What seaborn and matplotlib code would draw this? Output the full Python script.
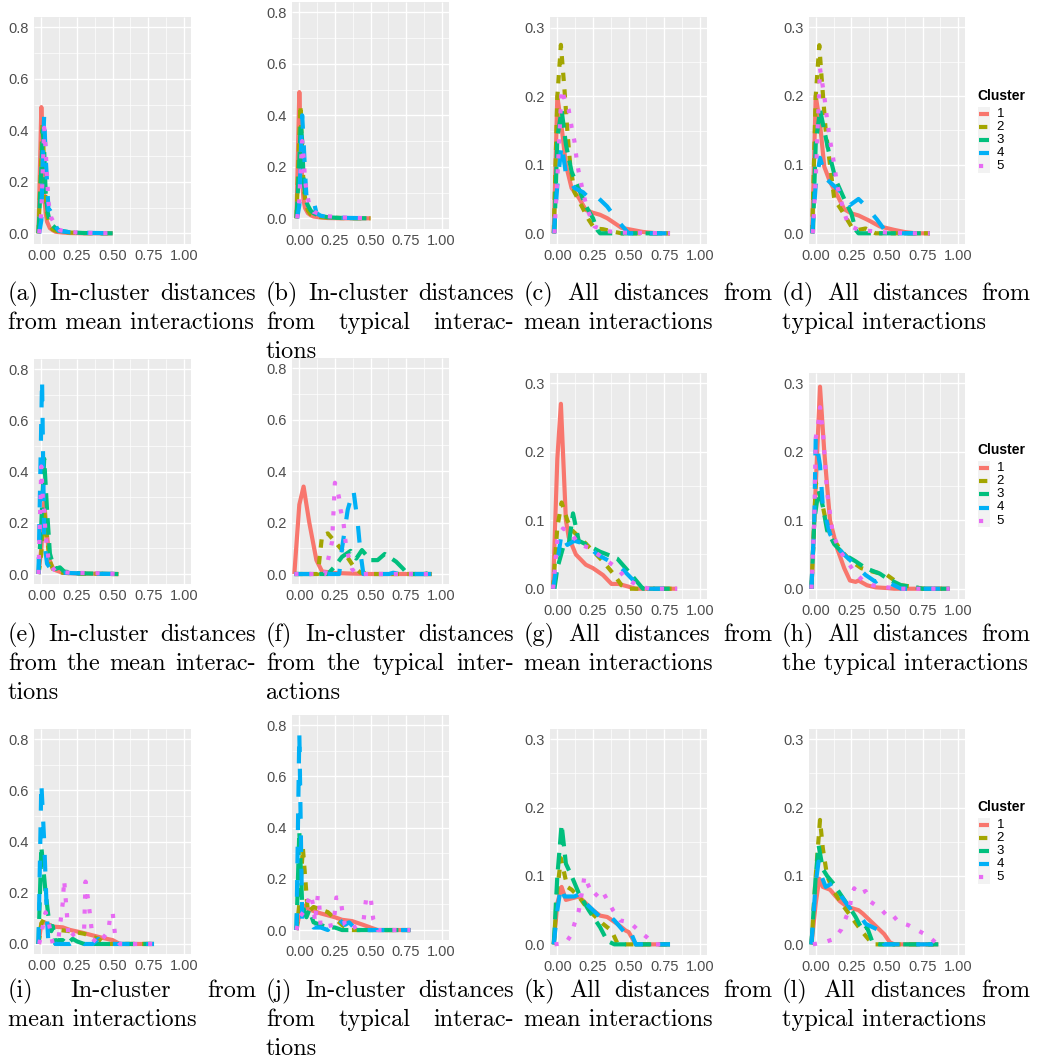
import numpy as np
import pandas as pd
import matplotlib
matplotlib.use('Agg')
import matplotlib.pyplot as plt
import seaborn as sns
from matplotlib.lines import Line2D
from matplotlib.patches import Rectangle
from matplotlib.ticker import MultipleLocator

sns.set_style('darkgrid', {'axes.facecolor': '#EBEBEB', 'grid.color': 'white'})
plt.rcParams['font.family'] = ['Liberation Sans', 'DejaVu Sans']
plt.rcParams['lines.solid_capstyle'] = 'butt'
plt.rcParams['lines.dash_capstyle'] = 'butt'

# ---- data: (distance, proportion) vertices per cluster ----
A1 = [(-0.02, 0), (0.0, 0.49), (0.01, 0.30), (0.02, 0.15), (0.03, 0.08), (0.04, 0.045), (0.06, 0.02), (0.08, 0.012), (0.1, 0.006), (0.15, 0.003), (0.2, 0.001), (0.3, 0), (0.5, 0)]
A2 = [(-0.02, 0), (0.0, 0.30), (0.008, 0.43), (0.02, 0.25), (0.03, 0.12), (0.045, 0.06), (0.06, 0.03), (0.08, 0.015), (0.1, 0.01), (0.15, 0.005), (0.2, 0.003), (0.3, 0.001), (0.5, 0)]
A3 = [(-0.02, 0), (0.0, 0.25), (0.01, 0.40), (0.02, 0.32), (0.03, 0.16), (0.045, 0.08), (0.06, 0.045), (0.08, 0.03), (0.1, 0.02), (0.13, 0.01), (0.2, 0.004), (0.3, 0.001), (0.5, 0)]
A4 = [(-0.015, 0), (0.0, 0.05), (0.01, 0.30), (0.02, 0.46), (0.03, 0.30), (0.04, 0.20), (0.05, 0.09), (0.06, 0.09), (0.08, 0.07), (0.1, 0.03), (0.12, 0.01), (0.2, 0.004), (0.3, 0.002), (0.5, 0)]
A5 = [(-0.015, 0), (0.0, 0.08), (0.01, 0.25), (0.02, 0.41), (0.03, 0.33), (0.04, 0.22), (0.05, 0.12), (0.07, 0.06), (0.1, 0.03), (0.13, 0.012), (0.2, 0.005), (0.3, 0.002), (0.5, 0)]

B1 = [(-0.02, 0), (0.0, 0.49), (0.01, 0.30), (0.02, 0.14), (0.03, 0.07), (0.04, 0.04), (0.06, 0.02), (0.08, 0.012), (0.1, 0.007), (0.15, 0.003), (0.2, 0.001), (0.3, 0), (0.5, 0)]
B2 = [(-0.02, 0), (0.0, 0.32), (0.008, 0.44), (0.02, 0.26), (0.03, 0.12), (0.045, 0.06), (0.06, 0.03), (0.08, 0.015), (0.1, 0.01), (0.15, 0.005), (0.2, 0.003), (0.3, 0.001), (0.5, 0)]
B3 = [(-0.02, 0), (0.0, 0.22), (0.01, 0.37), (0.02, 0.30), (0.03, 0.15), (0.045, 0.07), (0.06, 0.05), (0.08, 0.03), (0.1, 0.02), (0.13, 0.012), (0.2, 0.004), (0.3, 0.001), (0.5, 0)]
B4 = [(-0.015, 0), (0.0, 0.05), (0.01, 0.25), (0.02, 0.40), (0.03, 0.30), (0.04, 0.18), (0.05, 0.085), (0.07, 0.07), (0.09, 0.065), (0.1, 0.07), (0.12, 0.02), (0.15, 0.01), (0.2, 0.005), (0.3, 0.002), (0.5, 0)]
B5 = [(-0.015, 0), (0.0, 0.07), (0.01, 0.20), (0.02, 0.30), (0.03, 0.24), (0.04, 0.15), (0.05, 0.11), (0.07, 0.05), (0.1, 0.025), (0.13, 0.02), (0.2, 0.008), (0.3, 0.003), (0.5, 0)]

C1 = [(-0.025, 0), (0.0, 0.20), (0.03, 0.155), (0.06, 0.10), (0.1, 0.066), (0.15, 0.052), (0.2, 0.034), (0.25, 0.03), (0.3, 0.027), (0.35, 0.022), (0.4, 0.015), (0.45, 0.008), (0.5, 0.006), (0.55, 0.004), (0.6, 0.002), (0.65, 0.001), (0.7, 0), (0.79, 0)]
C2 = [(-0.025, 0), (0.0, 0.20), (0.025, 0.275), (0.05, 0.21), (0.07, 0.15), (0.09, 0.10), (0.12, 0.06), (0.18, 0.036), (0.22, 0.02), (0.26, 0.007), (0.32, 0.006), (0.38, 0.003), (0.45, 0), (0.79, 0)]
C3 = [(-0.02, 0), (0.0, 0.14), (0.03, 0.18), (0.06, 0.13), (0.1, 0.09), (0.15, 0.065), (0.2, 0.04), (0.25, 0.022), (0.28, 0.005), (0.3, 0), (0.79, 0)]
C4 = [(-0.025, 0), (0.0, 0.07), (0.03, 0.13), (0.06, 0.087), (0.12, 0.066), (0.18, 0.06), (0.25, 0.046), (0.29, 0.051), (0.35, 0.039), (0.42, 0.019), (0.5, 0), (0.79, 0)]
C5 = [(-0.02, 0), (0.0, 0.08), (0.03, 0.21), (0.06, 0.19), (0.08, 0.18), (0.1, 0.155), (0.12, 0.134), (0.14, 0.1), (0.18, 0.06), (0.21, 0.035), (0.26, 0.01), (0.35, 0.003), (0.45, 0.001), (0.79, 0)]

D1 = [(-0.025, 0), (0.0, 0.20), (0.03, 0.16), (0.06, 0.097), (0.1, 0.075), (0.15, 0.056), (0.2, 0.035), (0.25, 0.029), (0.3, 0.026), (0.37, 0.019), (0.45, 0.01), (0.55, 0.005), (0.62, 0.002), (0.7, 0), (0.8, 0)]
D2 = [(-0.025, 0), (0.0, 0.20), (0.025, 0.274), (0.04, 0.23), (0.07, 0.15), (0.1, 0.10), (0.13, 0.05), (0.18, 0.034), (0.25, 0.01), (0.3, 0.005), (0.35, 0.007), (0.42, 0), (0.8, 0)]
D3 = [(-0.02, 0), (0.0, 0.13), (0.03, 0.18), (0.06, 0.15), (0.09, 0.12), (0.14, 0.078), (0.2, 0.05), (0.25, 0.029), (0.28, 0.005), (0.3, 0), (0.8, 0)]
D4 = [(-0.025, 0), (0.0, 0.07), (0.03, 0.11), (0.07, 0.08), (0.15, 0.065), (0.2, 0.055), (0.24, 0.041), (0.3, 0.05), (0.35, 0.04), (0.43, 0.02), (0.5, 0), (0.8, 0)]
D5 = [(-0.02, 0), (0.0, 0.08), (0.03, 0.24), (0.06, 0.20), (0.08, 0.165), (0.1, 0.136), (0.13, 0.10), (0.15, 0.07), (0.2, 0.03), (0.23, 0.012), (0.3, 0.005), (0.4, 0.003), (0.5, 0.001), (0.7, 0), (0.8, 0)]

E1 = [(-0.02, 0), (0.0, 0.10), (0.02, 0.28), (0.04, 0.15), (0.06, 0.05), (0.08, 0.025), (0.1, 0.015), (0.15, 0.005), (0.25, 0.002), (0.54, 0)]
E2 = [(-0.02, 0), (0.0, 0.08), (0.02, 0.25), (0.04, 0.14), (0.06, 0.05), (0.08, 0.02), (0.1, 0.012), (0.15, 0.005), (0.25, 0.002), (0.54, 0)]
E3 = [(-0.02, 0), (0.0, 0.20), (0.02, 0.45), (0.04, 0.25), (0.06, 0.08), (0.08, 0.04), (0.1, 0.02), (0.13, 0.026), (0.16, 0.01), (0.25, 0.003), (0.54, 0)]
E4 = [(-0.02, 0), (0.005, 0.76), (0.02, 0.13), (0.04, 0.04), (0.08, 0.01), (0.15, 0.005), (0.3, 0.002), (0.54, 0)]
E5 = [(-0.02, 0), (0.0, 0.42), (0.01, 0.30), (0.02, 0.25), (0.03, 0.15), (0.05, 0.06), (0.07, 0.03), (0.1, 0.01), (0.2, 0.005), (0.4, 0.003), (0.54, 0)]

F1 = [(-0.035, 0), (0.0, 0.27), (0.03, 0.34), (0.07, 0.20), (0.12, 0.054), (0.16, 0.01), (0.25, 0.004), (0.35, 0.002), (0.5, 0), (0.93, 0)]
F2 = [(-0.035, 0), (0.13, 0), (0.16, 0.15), (0.2, 0.158), (0.25, 0.126), (0.32, 0.08), (0.38, 0.03), (0.43, 0.005), (0.5, 0), (0.93, 0)]
F3 = [(-0.035, 0), (0.2, 0), (0.25, 0.03), (0.3, 0.067), (0.36, 0.09), (0.4, 0.06), (0.44, 0.093), (0.5, 0.054), (0.55, 0.054), (0.6, 0.078), (0.68, 0.048), (0.73, 0.02), (0.76, 0), (0.88, 0), (0.92, 0.005), (0.93, 0)]
F4 = [(-0.035, 0), (0.28, 0), (0.3, 0.1), (0.34, 0.25), (0.38, 0.327), (0.41, 0.2), (0.43, 0.08), (0.45, 0), (0.63, 0), (0.66, 0.005), (0.7, 0), (0.93, 0)]
F5 = [(-0.035, 0), (0.18, 0), (0.2, 0.05), (0.23, 0.126), (0.25, 0.355), (0.27, 0.32), (0.28, 0.294), (0.29, 0.25), (0.31, 0.2), (0.33, 0.1), (0.37, 0.02), (0.4, 0), (0.93, 0)]

G1 = [(-0.03, 0), (0.0, 0.19), (0.025, 0.27), (0.06, 0.10), (0.08, 0.075), (0.13, 0.05), (0.2, 0.035), (0.25, 0.03), (0.32, 0.02), (0.38, 0.007), (0.43, 0.007), (0.5, 0.003), (0.55, 0), (0.84, 0)]
G2 = [(-0.03, 0), (0.0, 0.09), (0.03, 0.126), (0.07, 0.10), (0.1, 0.086), (0.18, 0.07), (0.25, 0.055), (0.32, 0.04), (0.4, 0.02), (0.45, 0.005), (0.5, 0), (0.84, 0)]
G3 = [(-0.02, 0), (0.0, 0.03), (0.04, 0.06), (0.08, 0.065), (0.11, 0.11), (0.15, 0.07), (0.2, 0.065), (0.3, 0.054), (0.35, 0.05), (0.42, 0.044), (0.5, 0.025), (0.6, 0), (0.84, 0)]
G4 = [(-0.03, 0), (0.0, 0.04), (0.03, 0.081), (0.07, 0.064), (0.12, 0.07), (0.2, 0.065), (0.28, 0.05), (0.35, 0.042), (0.45, 0.03), (0.52, 0.015), (0.6, 0), (0.84, 0)]
G5 = [(-0.03, 0), (0.0, 0.07), (0.04, 0.088), (0.1, 0.08), (0.15, 0.065), (0.22, 0.06), (0.32, 0.045), (0.42, 0.03), (0.48, 0.015), (0.52, 0.01), (0.58, 0.003), (0.65, 0), (0.84, 0)]

H1 = [(-0.03, 0), (0.0, 0.15), (0.03, 0.295), (0.06, 0.20), (0.1, 0.10), (0.15, 0.059), (0.2, 0.03), (0.24, 0.012), (0.28, 0.01), (0.3, 0.012), (0.36, 0.005), (0.42, 0.002), (0.5, 0.001), (0.55, 0), (0.94, 0)]
H2 = [(-0.03, 0), (-0.01, 0.1), (0.0, 0.155), (0.04, 0.13), (0.07, 0.10), (0.1, 0.08), (0.18, 0.055), (0.25, 0.04), (0.32, 0.03), (0.4, 0.025), (0.5, 0.02), (0.6, 0.005), (0.68, 0.003), (0.75, 0), (0.94, 0)]
H3 = [(-0.03, 0), (-0.01, 0.1), (0.02, 0.144), (0.05, 0.12), (0.08, 0.085), (0.13, 0.065), (0.2, 0.05), (0.28, 0.04), (0.35, 0.03), (0.45, 0.022), (0.5, 0.015), (0.6, 0.005), (0.7, 0.002), (0.75, 0), (0.94, 0)]
H4 = [(-0.03, 0), (-0.01, 0.1), (0.0, 0.22), (0.03, 0.18), (0.05, 0.12), (0.1, 0.08), (0.15, 0.06), (0.25, 0.04), (0.3, 0.03), (0.35, 0.02), (0.42, 0.01), (0.45, 0.015), (0.55, 0.005), (0.6, 0), (0.94, 0)]
H5 = [(-0.03, 0), (-0.01, 0.1), (0.0, 0.22), (0.02, 0.245), (0.03, 0.265), (0.05, 0.23), (0.08, 0.14), (0.12, 0.08), (0.17, 0.055), (0.22, 0.04), (0.27, 0.025), (0.33, 0.012), (0.4, 0.005), (0.5, 0.002), (0.6, 0), (0.94, 0)]

I1 = [(-0.02, 0), (0.0, 0.08), (0.02, 0.085), (0.08, 0.068), (0.15, 0.065), (0.2, 0.055), (0.28, 0.045), (0.35, 0.035), (0.42, 0.025), (0.5, 0.015), (0.55, 0), (0.79, 0)]
I2 = [(-0.02, 0), (0.0, 0.08), (0.02, 0.10), (0.06, 0.06), (0.12, 0.055), (0.2, 0.05), (0.3, 0.04), (0.4, 0.02), (0.45, 0), (0.79, 0)]
I3 = [(-0.02, 0), (0.0, 0.38), (0.03, 0.2), (0.05, 0.107), (0.07, 0.05), (0.08, 0.07), (0.1, 0), (0.12, 0.015), (0.15, 0.015), (0.18, 0), (0.22, 0.02), (0.25, 0.01), (0.3, 0), (0.79, 0)]
I4 = [(-0.02, 0), (0.0, 0.63), (0.02, 0.4), (0.04, 0.1), (0.05, 0), (0.07, 0.02), (0.1, 0), (0.2, 0), (0.26, 0.02), (0.3, 0), (0.36, 0), (0.4, 0.02), (0.43, 0), (0.79, 0)]
I5 = [(-0.015, 0), (0.0, 0.04), (0.03, 0.124), (0.05, 0.09), (0.08, 0), (0.12, 0.02), (0.15, 0.159), (0.16, 0.25), (0.18, 0.113), (0.19, 0.02), (0.23, 0.04), (0.3, 0.057), (0.31, 0.244), (0.33, 0.165), (0.34, 0.12), (0.36, 0.02), (0.4, 0), (0.47, 0.05), (0.48, 0.096), (0.5, 0.124), (0.51, 0.07), (0.52, 0.02), (0.55, 0), (0.79, 0)]

J1 = [(-0.02, 0), (0.0, 0.06), (0.02, 0.10), (0.07, 0.08), (0.15, 0.065), (0.25, 0.05), (0.3, 0.04), (0.37, 0.035), (0.45, 0.02), (0.5, 0.01), (0.55, 0), (0.78, 0)]
J2 = [(-0.02, 0), (0.0, 0.1), (0.025, 0.32), (0.06, 0.07), (0.1, 0.09), (0.2, 0.07), (0.26, 0.04), (0.3, 0.02), (0.35, 0), (0.78, 0)]
J3 = [(-0.02, 0), (0.0, 0.384), (0.02, 0.1), (0.05, 0.05), (0.07, 0.078), (0.1, 0.03), (0.15, 0.02), (0.2, 0.01), (0.25, 0.01), (0.3, 0), (0.78, 0)]
J4 = [(-0.02, 0), (0.0, 0.77), (0.02, 0.04), (0.07, 0.04), (0.1, 0.01), (0.15, 0.01), (0.2, 0), (0.27, 0.045), (0.32, 0.02), (0.35, 0.03), (0.4, 0), (0.78, 0)]
J5 = [(-0.02, 0), (0.0, 0.05), (0.03, 0.07), (0.08, 0.14), (0.1, 0.09), (0.11, 0.03), (0.13, 0.135), (0.14, 0.1), (0.15, 0.01), (0.24, 0.02), (0.26, 0.127), (0.29, 0.125), (0.3, 0.08), (0.32, 0.02), (0.35, 0), (0.45, 0.03), (0.46, 0.08), (0.47, 0.125), (0.5, 0.13), (0.51, 0.085), (0.52, 0.04), (0.55, 0), (0.78, 0)]

K1 = [(-0.025, 0), (0.0, 0.06), (0.03, 0.084), (0.06, 0.065), (0.15, 0.07), (0.2, 0.06), (0.25, 0.05), (0.3, 0.042), (0.35, 0.04), (0.42, 0.03), (0.48, 0.02), (0.5, 0.018), (0.55, 0), (0.79, 0)]
K2 = [(-0.025, 0), (0.0, 0.08), (0.025, 0.126), (0.07, 0.084), (0.1, 0.08), (0.15, 0.07), (0.22, 0.05), (0.32, 0.03), (0.38, 0.02), (0.42, 0.002), (0.48, 0), (0.79, 0)]
K3 = [(-0.025, 0), (0.0, 0.10), (0.03, 0.175), (0.06, 0.118), (0.1, 0.10), (0.15, 0.075), (0.22, 0.05), (0.3, 0.025), (0.35, 0.005), (0.4, 0), (0.79, 0)]
K4 = [(-0.025, 0), (0.0, 0.05), (0.025, 0.085), (0.05, 0.07), (0.12, 0.07), (0.17, 0.075), (0.2, 0.06), (0.25, 0.05), (0.3, 0.04), (0.35, 0.045), (0.4, 0.035), (0.47, 0.018), (0.5, 0.025), (0.55, 0), (0.79, 0)]
K5 = [(-0.02, 0), (0.06, 0.002), (0.1, 0.015), (0.12, 0.03), (0.15, 0.049), (0.18, 0.085), (0.19, 0.1), (0.22, 0.085), (0.26, 0.07), (0.31, 0.08), (0.35, 0.065), (0.39, 0.05), (0.44, 0.035), (0.51, 0.032), (0.57, 0.02), (0.63, 0.01), (0.68, 0), (0.79, 0)]

L1 = [(-0.03, 0), (0.0, 0.06), (0.025, 0.096), (0.05, 0.084), (0.1, 0.08), (0.17, 0.063), (0.22, 0.055), (0.3, 0.05), (0.33, 0.045), (0.38, 0.035), (0.43, 0.025), (0.48, 0.015), (0.52, 0.003), (0.55, 0), (0.86, 0)]
L2 = [(-0.03, 0), (0.0, 0.1), (0.03, 0.182), (0.05, 0.14), (0.08, 0.10), (0.12, 0.08), (0.18, 0.06), (0.25, 0.04), (0.32, 0.02), (0.38, 0.005), (0.4, 0), (0.86, 0)]
L3 = [(-0.03, 0), (0.0, 0.1), (0.02, 0.145), (0.05, 0.11), (0.08, 0.10), (0.12, 0.09), (0.2, 0.065), (0.25, 0.05), (0.28, 0.04), (0.33, 0.02), (0.36, 0.025), (0.4, 0.002), (0.45, 0), (0.86, 0)]
L4 = [(-0.03, 0), (0.0, 0.09), (0.02, 0.121), (0.04, 0.10), (0.07, 0.084), (0.12, 0.09), (0.18, 0.07), (0.25, 0.05), (0.3, 0.045), (0.35, 0.03), (0.4, 0.025), (0.45, 0.02), (0.48, 0), (0.86, 0)]
L5 = [(-0.02, 0), (0.06, 0.003), (0.13, 0.008), (0.18, 0.022), (0.21, 0.038), (0.24, 0.054), (0.25, 0.071), (0.27, 0.082), (0.3, 0.073), (0.35, 0.078), (0.38, 0.063), (0.45, 0.053), (0.5, 0.042), (0.53, 0.045), (0.58, 0.033), (0.65, 0.028), (0.72, 0.02), (0.79, 0.012), (0.85, 0.001)]

CLUSTERS = ['1', '2', '3', '4', '5']
X_TICKS = [0.0, 0.25, 0.5, 0.75, 1.0]
Y_TICKS_BIG = [0.0, 0.2, 0.4, 0.6, 0.8]
Y_TICKS_SMALL = [0.0, 0.1, 0.2, 0.3]

CAPTIONS = {
    'a': ['(a) In-cluster distances', 'from mean interactions'],
    'b': ['(b) In-cluster distances', 'from typical interac-', 'tions'],
    'c': ['(c) All distances from', 'mean interactions'],
    'd': ['(d) All distances from', 'typical interactions'],
    'e': ['(e) In-cluster distances', 'from the mean interac-', 'tions'],
    'f': ['(f) In-cluster distances', 'from the typical inter-', 'actions'],
    'g': ['(g) All distances from', 'mean interactions'],
    'h': ['(h) All distances from', 'the typical interactions'],
    'i': ['(i) In-cluster from', 'mean interactions'],
    'j': ['(j) In-cluster distances', 'from typical interac-', 'tions'],
    'k': ['(k) All distances from', 'mean interactions'],
    'l': ['(l) All distances from', 'typical interactions'],
}

# ---- styling ----
PALETTE = {'1': '#F8766D', '2': '#A3A500', '3': '#00BF7D', '4': '#00B0F6', '5': '#E76BF3'}
DASHES = {'1': '', '2': (2, 2), '3': (4, 2), '4': (4, 4), '5': (1, 2.6)}
LW = 3.0
W, H = 1038, 1059

# panel boxes in pixels: left, top, right, bottom
PANELS = [
    ('a', [A1, A2, A3, A4, A5], 'big', (34.2, 17.0, 191.1, 243.6)),
    ('b', [B1, B2, B3, B4, B5], 'big', (292.2, 2.0, 448.8, 228.6)),
    ('c', [C1, C2, C3, C4, C5], 'small', (550.2, 17.4, 707.1, 243.6)),
    ('d', [D1, D2, D3, D4, D5], 'small', (808.6, 17.0, 965.4, 243.6)),
    ('e', [E1, E2, E3, E4, E5], 'big', (34.2, 358.8, 191.1, 584.3)),
    ('f', [F1, F2, F3, F4, F5], 'big', (292.2, 358.0, 448.8, 584.3)),
    ('g', [G1, G2, G3, G4, G5], 'small', (550.2, 373.0, 707.1, 599.0)),
    ('h', [H1, H2, H3, H4, H5], 'small', (808.6, 373.0, 965.4, 599.0)),
    ('i', [I1, I2, I3, I4, I5], 'big', (34.2, 729.1, 191.1, 954.2)),
    ('j', [J1, J2, J3, J4, J5], 'big', (292.2, 714.8, 448.8, 940.3)),
    ('k', [K1, K2, K3, K4, K5], 'small', (550.2, 729.0, 707.1, 954.6)),
    ('l', [L1, L2, L3, L4, L5], 'small', (808.6, 729.0, 965.4, 954.6)),
]
CAPTION_ROW_Y = [300, 641, 997]   # baseline of first caption line per row
CAPTION_STEP = 29.0
COL_X = [8, 266, 524, 782]
COL_W = 248
LEGEND_TITLE_Y = [95.7, 450.0, 806.7]

fig = plt.figure(figsize=(W / 100, H / 100), dpi=100)


def style_axes(ax, scale):
    ax.set_xlim(-0.05, 1.05)
    ax.set_xticks(X_TICKS)
    ax.set_xticklabels(['%.2f' % v for v in X_TICKS])
    ax.xaxis.set_minor_locator(MultipleLocator(0.125))
    if scale == 'big':
        ax.set_ylim(-0.04, 0.84)
        ax.set_yticks(Y_TICKS_BIG)
        ax.set_yticklabels(['%.1f' % v for v in Y_TICKS_BIG])
        ax.yaxis.set_minor_locator(MultipleLocator(0.1))
    else:
        ax.set_ylim(-0.015, 0.315)
        ax.set_yticks(Y_TICKS_SMALL)
        ax.set_yticklabels(['%.1f' % v for v in Y_TICKS_SMALL])
        ax.yaxis.set_minor_locator(MultipleLocator(0.05))
    ax.grid(which='major', color='white', linewidth=1.0)
    ax.grid(which='minor', color='white', linewidth=0.5)
    ax.set_axisbelow(True)
    ax.tick_params(which='minor', length=0)
    ax.tick_params(which='major', length=2.2, width=0.8, color='#333333',
                   labelcolor='#4D4D4D', labelsize=10.5, pad=1.5)
    for sp in ax.spines.values():
        sp.set_visible(False)
    ax.set_xlabel('')
    ax.set_ylabel('')


for i, (name, series, scale, (l, t, r, b)) in enumerate(PANELS):
    ax = fig.add_axes([l / W, 1 - b / H, (r - l) / W, (b - t) / H])
    df = pd.concat([pd.DataFrame(s, columns=['x', 'y']).assign(Cluster=c)
                    for c, s in zip(CLUSTERS, series)], ignore_index=True)
    sns.lineplot(data=df, x='x', y='y', hue='Cluster', style='Cluster',
                 hue_order=CLUSTERS, style_order=CLUSTERS, palette=PALETTE,
                 dashes=DASHES, estimator=None, sort=False, linewidth=LW,
                 legend=False, ax=ax)
    style_axes(ax, scale)

# ---- legends (one per row, right of the last panel) ----
for ty in LEGEND_TITLE_Y:
    fig.text(977.7 / W, 1 - ty / H, 'Cluster', fontsize=10, fontweight='bold',
             color='black', ha='left', va='center')
    top = ty + 11.3
    key_h = 13.2
    fig.patches.append(Rectangle((977.7 / W, 1 - (top + 5 * key_h) / H), 11.8 / W, 5 * key_h / H,
                                 transform=fig.transFigure, facecolor='#F2F2F2', edgecolor='none'))
    for k, c in enumerate(CLUSTERS):
        yc = top + key_h * (k + 0.5)
        ln = Line2D([978.6 / W, 988.6 / W], [1 - yc / H, 1 - yc / H], transform=fig.transFigure,
                    color=PALETTE[c], linewidth=LW, solid_capstyle='butt', dash_capstyle='butt')
        if DASHES[c]:
            ln.set_dashes(DASHES[c])
        fig.lines.append(ln)
        fig.text(996.5 / W, 1 - yc / H, c, fontsize=9.5, color='black', ha='left', va='center')

# ---- captions, justified like the LaTeX subcaptions ----
renderer = fig.canvas.get_renderer()
cap_font = dict(family='cmr10', fontsize=17.5, color='black', ha='left', va='baseline')
for i, (name, series, scale, box) in enumerate(PANELS):
    row, col = divmod(i, 4)
    lines = CAPTIONS[name]
    x0 = COL_X[col]
    for j, line in enumerate(lines):
        y = CAPTION_ROW_Y[row] + j * CAPTION_STEP
        words = line.split(' ')
        if j == len(lines) - 1 or len(words) == 1:
            fig.text(x0 / W, 1 - y / H, line, **cap_font)
            continue
        texts = [fig.text(0, 0, w, **cap_font) for w in words]
        widths = [tx.get_window_extent(renderer).width for tx in texts]
        gap = (COL_W - sum(widths)) / (len(words) - 1)
        x = x0
        for tx, wd in zip(texts, widths):
            tx.set_position((x / W, 1 - y / H))
            x += wd + gap

fig.savefig('out.png', dpi=100)
